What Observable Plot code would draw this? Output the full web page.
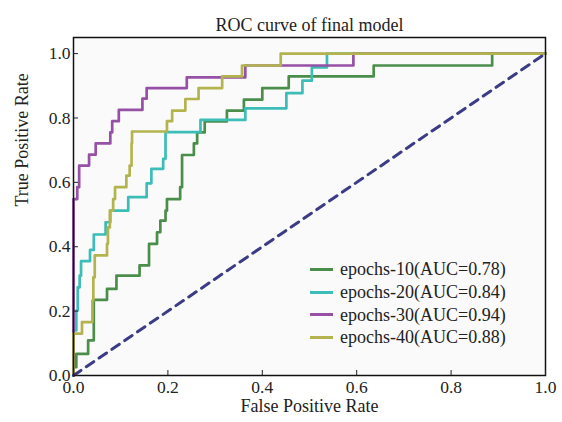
<!DOCTYPE html>
<html><head><meta charset="utf-8">
<script src="https://cdn.jsdelivr.net/npm/d3@7"></script>
<script src="https://cdn.jsdelivr.net/npm/@observablehq/plot@0.6"></script>
<style>
body{margin:0;background:#fff;}
#wrap{position:relative;width:562px;height:422px;font-family:"Liberation Serif","DejaVu Serif",serif;}
#legend{position:absolute;left:310px;top:258px;font-size:18px;color:#222;line-height:22.8px}
.item{display:flex;align-items:center;height:22.8px;white-space:nowrap}
.sw{width:23px;height:3px;margin-right:7px}
</style></head><body><div id="wrap"></div>
<script>
const seriesNames = ["epochs-10(AUC=0.78)","epochs-20(AUC=0.84)","epochs-30(AUC=0.94)","epochs-40(AUC=0.88)"];
const seriesColors = ["#4b8e4b","#3cbdb7","#9651a6","#b4b44f"];

const fpr10 = [0, 0, 0.006, 0.031, 0.043, 0.071, 0.091, 0.14, 0.16, 0.177, 0.184, 0.195, 0.198, 0.226, 0.23, 0.255, 0.262, 0.278, 0.325, 0.361, 0.40, 0.456, 0.636, 0.887, 1];
const tpr10 = [0, 0.026, 0.067, 0.109, 0.235, 0.269, 0.31, 0.342, 0.409, 0.445, 0.481, 0.512, 0.548, 0.585, 0.685, 0.721, 0.755, 0.789, 0.823, 0.857, 0.893, 0.929, 0.963, 1.0, 1];

const fpr20 = [0, 0, 0.006, 0.009, 0.013, 0.016, 0.035, 0.043, 0.068, 0.078, 0.116, 0.155, 0.165, 0.19, 0.195, 0.269, 0.364, 0.451, 0.485, 0.505, 0.537, 1];
const tpr20 = [0, 0.14, 0.202, 0.274, 0.31, 0.355, 0.39, 0.438, 0.476, 0.512, 0.554, 0.597, 0.642, 0.673, 0.756, 0.794, 0.83, 0.877, 0.916, 0.957, 1.0, 1];

const fpr30 = [0, 0, 0.008, 0.012, 0.033, 0.047, 0.078, 0.082, 0.096, 0.146, 0.155, 0.24, 0.364, 0.593, 1];
const tpr30 = [0, 0.548, 0.585, 0.652, 0.686, 0.721, 0.755, 0.79, 0.825, 0.86, 0.893, 0.926, 0.963, 1.0, 1];

const fpr40 = [0, 0, 0.018, 0.040, 0.042, 0.045, 0.071, 0.073, 0.077, 0.084, 0.088, 0.112, 0.119, 0.123, 0.124, 0.198, 0.209, 0.237, 0.265, 0.315, 0.357, 0.439, 1];
const tpr40 = [0, 0.13, 0.166, 0.233, 0.305, 0.373, 0.409, 0.46, 0.512, 0.548, 0.585, 0.621, 0.652, 0.721, 0.758, 0.79, 0.823, 0.859, 0.893, 0.929, 0.963, 1.0, 1];

const diagX = [0, 1];
const diagY = [0, 1];

const xTicks = [0, 0.2, 0.4, 0.6, 0.8, 1.0];
const yTicks = [0, 0.2, 0.4, 0.6, 0.8, 1.0];

const titleText = "ROC curve of final model";
const xLabel = "False Positive Rate";
const yLabel = "True Positive Rate";

const allF = [fpr10, fpr20, fpr30, fpr40];
const allT = [tpr10, tpr20, tpr30, tpr40];
const rows = [];
seriesNames.forEach((name, s) => {
  allF[s].forEach((f, i) => rows.push({series: name, fpr: f, tpr: allT[s][i]}));
});
const diag = diagX.map((x, i) => ({x, y: diagY[i]}));

const chart = Plot.plot({
  width: 562, height: 422,
  marginLeft: 73, marginRight: 17, marginTop: 37, marginBottom: 47,
  style: {fontFamily: '"Liberation Serif", "DejaVu Serif", serif', fontSize: "17px", color: "#222", background: "#fff"},
  x: {domain: [0, 1]},
  y: {domain: [0, 1.05]},
  color: {domain: seriesNames, range: seriesColors},
  marks: [
    Plot.frame({fill: "#fafafa", stroke: null}),
    Plot.line(rows, {x: "fpr", y: "tpr", z: "series", stroke: "series", strokeWidth: 2.7, curve: "step-after"}),
    Plot.line(diag, {x: "x", y: "y", stroke: "#3b3b86", strokeWidth: 3, strokeDasharray: "9,6.5"}),
    Plot.frame({stroke: "#111", strokeWidth: 1.5}),
    Plot.axisX({ticks: xTicks, tickFormat: d3.format(".1f"), tickSize: -5, tickPadding: 10, fontSize: 17.5, label: null}),
    Plot.axisY({ticks: yTicks, tickFormat: d3.format(".1f"), tickSize: -5, tickPadding: 8, fontSize: 17.5, label: null}),
    Plot.text([titleText], {frameAnchor: "top", dy: -19, fontSize: 18, fill: "#222"}),
    Plot.text([xLabel], {frameAnchor: "bottom", dy: 36, fontSize: 18, fill: "#222"}),
    Plot.text([yLabel], {frameAnchor: "left", dx: -51, rotate: -90, fontSize: 18, fill: "#222"})
  ]
});
const wrap = document.getElementById("wrap");
wrap.appendChild(chart);
const legend = document.createElement("div");
legend.id = "legend";
seriesNames.forEach((name, i) => {
  const it = document.createElement("div");
  it.className = "item";
  const sw = document.createElement("span");
  sw.className = "sw";
  sw.style.background = seriesColors[i];
  const tx = document.createElement("span");
  tx.textContent = name;
  it.appendChild(sw); it.appendChild(tx);
  legend.appendChild(it);
});
wrap.appendChild(legend);
</script></body></html>
